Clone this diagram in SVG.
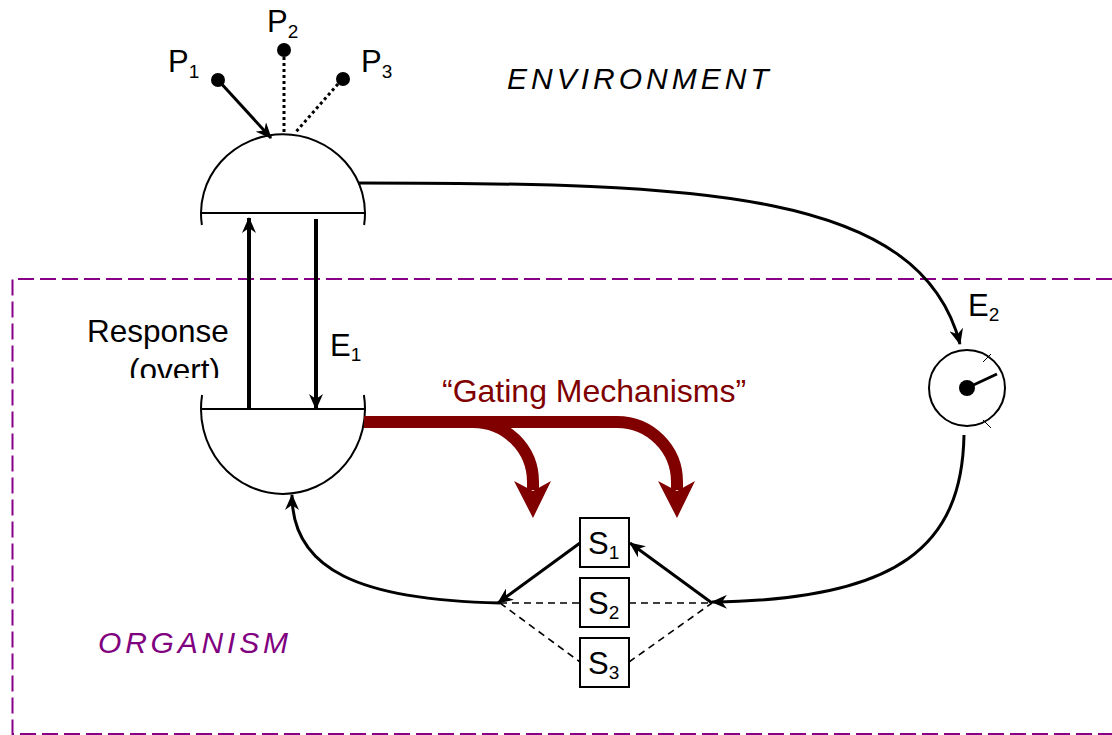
<svg xmlns="http://www.w3.org/2000/svg" width="1112" height="735" viewBox="0 0 1112 735">
<style>
text{font-family:"Liberation Sans",Arial,sans-serif;}
.lbl{font-size:31px;fill:#000;}
.sub{font-size:19px;}
.ln{fill:none;stroke:#000;stroke-width:3;}
.thin{fill:none;stroke:#000;stroke-width:2;}
.dash{fill:none;stroke:#000;stroke-width:1.6;stroke-dasharray:7 5;}
.dot{fill:none;stroke:#000;stroke-width:3;stroke-dasharray:3 3;}
.gate{fill:none;stroke:#800000;stroke-width:12;}
.head{fill:#800000;}
.box{fill:#fff;stroke:#000;stroke-width:2;}
</style>
<defs>
<marker id="ah" viewBox="0 0 16 14" refX="15" refY="7" markerWidth="16" markerHeight="14" markerUnits="userSpaceOnUse" orient="auto">
<path d="M0,0 L16,7 L0,14 L5,7 z" fill="#000"/>
</marker>
<clipPath id="clipOvert"><rect x="0" y="300" width="400" height="78"/></clipPath>
</defs>

<g id="organism-boundary">
<path d="M1112 279 H12.5 V734 H1112" fill="none" stroke="#880088" stroke-width="2" stroke-dasharray="16 6"/>
</g>

<g id="environment-label"><text x="507" y="89" class="lbl" font-style="italic" letter-spacing="4" style="font-size:30px">ENVIRONMENT</text></g>
<g id="organism-label"><text x="98" y="653" class="lbl" font-style="italic" letter-spacing="3.8" style="fill:#800080;font-size:30px">ORGANISM</text></g>

<g id="P1"><circle cx="218" cy="80" r="7"/><text x="168" y="72" class="lbl">P<tspan class="sub" dy="6">1</tspan></text></g>
<g id="P2"><circle cx="284" cy="50" r="7"/><text x="267" y="32" class="lbl">P<tspan class="sub" dy="6">2</tspan></text></g>
<g id="P3"><circle cx="343" cy="79" r="7"/><text x="361" y="72" class="lbl">P<tspan class="sub" dy="6">3</tspan></text></g>

<g id="receptor-top">
<path d="M201.9 225 A82 79 0 1 1 364.1 225" class="thin"/>
<line x1="202" y1="213" x2="364" y2="213" class="thin"/>
</g>

<g id="effector-bottom">
<path d="M202.1 395 A82 85 0 1 0 363.9 395" class="thin"/>
<line x1="202" y1="409" x2="364" y2="409" class="thin"/>
</g>

<g id="dial">
<circle cx="967" cy="388" r="38" class="thin"/>
<circle cx="967" cy="388" r="8"/>
<line x1="967" y1="388" x2="997" y2="374" stroke="#000" stroke-width="3"/>
<line x1="983" y1="362" x2="991" y2="354" stroke="#000" stroke-width="1"/>
<line x1="983" y1="420" x2="991" y2="428" stroke="#000" stroke-width="1"/>
</g>

<g id="S1"><rect x="580" y="518" width="49" height="49" class="box"/><text x="588" y="554" class="lbl">S<tspan class="sub" dy="5">1</tspan></text></g>
<g id="S2"><rect x="580" y="578" width="49" height="49" class="box"/><text x="588" y="614" class="lbl">S<tspan class="sub" dy="5">2</tspan></text></g>
<g id="S3"><rect x="580" y="638" width="49" height="49" class="box"/><text x="588" y="674" class="lbl">S<tspan class="sub" dy="5">3</tspan></text></g>

<g id="labels">
<g clip-path="url(#clipOvert)">
<text x="87" y="342" class="lbl" style="font-size:31.5px">Response</text>
<text x="129" y="381" class="lbl" style="font-size:31.5px">(overt)</text>
</g>
<text x="330" y="356" class="lbl">E<tspan class="sub" dy="5">1</tspan></text>
<text x="968" y="316" class="lbl">E<tspan class="sub" dy="5">2</tspan></text>
<text x="442" y="402" class="lbl" style="fill:#800000;font-size:32px">“Gating Mechanisms”</text>
</g>

<g id="connectors">
<line x1="218" y1="80" x2="271" y2="138" class="ln" marker-end="url(#ah)"/>
<line x1="284" y1="57" x2="284" y2="133" class="dot"/>
<line x1="338" y1="84" x2="295" y2="133" class="dot"/>
<line x1="249" y1="408" x2="249" y2="218" stroke="#000" stroke-width="4" marker-end="url(#ah)"/>
<line x1="316" y1="219" x2="316" y2="409" stroke="#000" stroke-width="4" marker-end="url(#ah)"/>
<path d="M358 183 C700 183 920 190 960 344" class="ln" marker-end="url(#ah)"/>
<path d="M964 435 C962 545 900 600 712 602" class="ln" marker-end="url(#ah)"/>
<path d="M500 603 C360 600 292 570 292 495" class="ln" marker-end="url(#ah)"/>
<line x1="580" y1="543" x2="498" y2="603" class="ln" marker-end="url(#ah)"/>
<line x1="712" y1="603" x2="630" y2="543" class="ln" marker-end="url(#ah)"/>
<line x1="500" y1="603" x2="580" y2="603" class="dash"/>
<line x1="629" y1="603" x2="712" y2="603" class="dash"/>
<line x1="500" y1="603" x2="580" y2="662" class="dash"/>
<line x1="629" y1="662" x2="712" y2="603" class="dash"/>
<path d="M364 422 H473 A60 60 0 0 1 533 482 V490" class="gate"/>
<path d="M470 422 H617 A60 60 0 0 1 677 482 V490" class="gate"/>
<path d="M514 481 L533 518 L551 481 L533 491 z" class="head"/>
<path d="M658 481 L677 518 L695 481 L677 491 z" class="head"/>
</g>
</svg>
